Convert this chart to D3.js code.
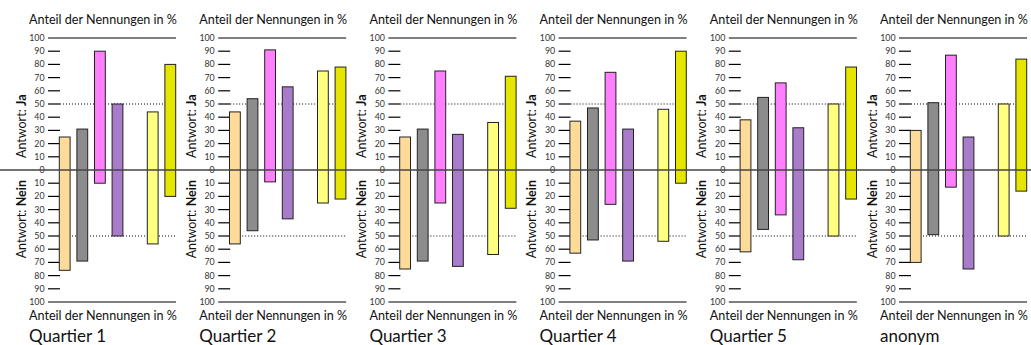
<!DOCTYPE html>
<html><head><meta charset="utf-8">
<script src="https://cdn.jsdelivr.net/npm/d3@7"></script>
<style>body{margin:0;background:#fff;} svg{display:block;}</style>
</head><body>
<svg id="c" width="1031" height="345"></svg>
<script>
const panels = ["Quartier 1","Quartier 2","Quartier 3","Quartier 4","Quartier 5","anonym"];
const series = ["A","B","C","D","E","F"];
const slots = ["A","B","C","D","gap","E","F"];
const colors = ["#FFDB99","#8C8C8C","#FF80FF","#A87CCB","#FFFF80","#E5E500"];
// Antwort: Ja (%) per panel, per series
const jaValues = [
  [25,31,90,50,44,80],
  [44,54,91,63,75,78],
  [25,31,75,27,36,71],
  [37,47,74,31,46,90],
  [38,55,66,32,50,78],
  [30,51,87,25,50,84]
];
// Antwort: Nein (%) per panel, per series
const neinValues = [
  [76,69,10,50,56,20],
  [56,46,9,37,25,22],
  [75,69,25,73,64,29],
  [63,53,26,69,54,10],
  [62,45,34,68,50,22],
  [70,49,13,75,50,16]
];
const tickValues = [0,10,20,30,40,50,60,70,80,90,100];
const axisTitle = "Anteil der Nennungen in %";

const svg = d3.select("#c");
const FONT = "Lato, 'DejaVu Sans', sans-serif";
const y0 = 170;
const yTop = d3.scaleLinear().domain([0,100]).range([y0, 38]);
const yBot = d3.scaleLinear().domain([0,100]).range([y0, 302]);
const panelStep = 170.2;

panels.forEach((name, p) => {
  const ox = p * panelStep;
  const g = svg.append("g").attr("transform", `translate(${ox},0)`);
  const x = d3.scaleBand().domain(slots).range([59.3, 175.7]).paddingInner(0.386).paddingOuter(0);

  [yTop, yBot].forEach((ys, k) => {
    tickValues.forEach(v => {
      if (v === 0 && k === 1) return;
      g.append("text").attr("x", 44.5).attr("y", ys(v)).attr("dy", "0.35em")
        .attr("text-anchor", "end").attr("font-family", FONT).attr("font-size", 8.8)
        .attr("fill", "#333").text(v);
      if (v === 0) return;
      g.append("line").attr("x1", 48).attr("x2", v === 100 ? 176 : 60)
        .attr("y1", ys(v)).attr("y2", ys(v)).attr("stroke", "#000").attr("stroke-width", 1.2);
    });
    g.append("line").attr("x1", 60).attr("x2", 176).attr("y1", ys(50)).attr("y2", ys(50))
      .attr("stroke", "#000").attr("stroke-width", 1).attr("stroke-dasharray", "1,2");
  });

  series.forEach((s, i) => {
    g.append("rect").attr("x", x(s)).attr("width", x.bandwidth())
      .attr("y", yTop(jaValues[p][i])).attr("height", yBot(neinValues[p][i]) - yTop(jaValues[p][i]))
      .attr("fill", colors[i]).attr("stroke", "#222").attr("stroke-width", 1);
  });

  g.append("text").attr("x", 29).attr("y", 24).attr("font-family", FONT).attr("font-size", 12.6)
    .attr("fill", "#111").text(axisTitle);
  g.append("text").attr("x", 29).attr("y", 320).attr("font-family", FONT).attr("font-size", 12.6)
    .attr("fill", "#111").text(axisTitle);
  g.append("text").attr("x", 29).attr("y", 342).attr("font-family", FONT).attr("font-size", 17)
    .attr("fill", "#111").text(name);

  const tj = g.append("text").attr("transform", `translate(25.5,158) rotate(-90)`)
    .attr("font-family", FONT).attr("font-size", 12.5).attr("fill", "#111");
  tj.append("tspan").text("Antwort: ");
  tj.append("tspan").attr("font-weight", "bold").text("Ja");
  const tn = g.append("text").attr("transform", `translate(25.5,180) rotate(-90)`)
    .attr("text-anchor", "end").attr("font-family", FONT).attr("font-size", 12.5).attr("fill", "#111");
  tn.append("tspan").text("Antwort: ");
  tn.append("tspan").attr("font-weight", "bold").text("Nein");
});

svg.append("line").attr("x1", 0).attr("x2", 1031).attr("y1", y0).attr("y2", y0)
  .attr("stroke", "#444").attr("stroke-width", 1.3);
</script>
</body></html>
